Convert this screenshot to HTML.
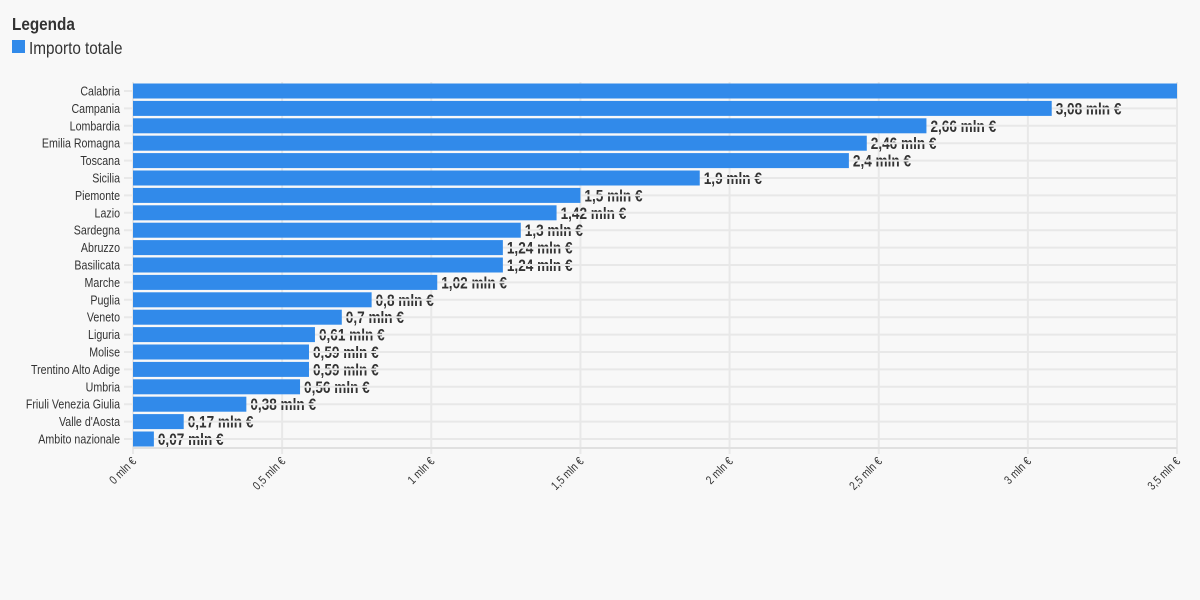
<!DOCTYPE html>
<html><head><meta charset="utf-8"><style>
body{margin:0;background:#f8f8f8;width:1200px;height:600px;overflow:hidden;font-family:"Liberation Sans",sans-serif;color:#333}
</style></head><body>
<svg id="c" width="1200" height="600" style="position:absolute;left:0;top:0">
<text transform="translate(12,30) scale(0.85,1)" font-size="18" font-weight="bold" fill="#333">Legenda</text>
<rect x="12" y="40" width="13" height="13" fill="#318aea"/>
<text transform="translate(29,54) scale(0.85,1)" font-size="18" fill="#333">Importo totale</text>
<defs><clipPath id="plot"><rect x="0" y="70" width="1177" height="400"/></clipPath></defs>
</svg>
<script>
const categories=["Calabria","Campania","Lombardia","Emilia Romagna","Toscana","Sicilia","Piemonte","Lazio","Sardegna","Abruzzo","Basilicata","Marche","Puglia","Veneto","Liguria","Molise","Trentino Alto Adige","Umbria","Friuli Venezia Giulia","Valle d'Aosta","Ambito nazionale"];
const values=[3.6,3.08,2.66,2.46,2.4,1.9,1.5,1.42,1.3,1.24,1.24,1.02,0.8,0.7,0.61,0.59,0.59,0.56,0.38,0.17,0.07];
const ticks=[0,0.5,1,1.5,2,2.5,3,3.5];
const tickLabels=["0 mln €","0,5 mln €","1 mln €","1,5 mln €","2 mln €","2,5 mln €","3 mln €","3,5 mln €"];
const svg=document.getElementById('c');const NS="http://www.w3.org/2000/svg";
const x0=133,x1=1177,xMax=3.5,yTop=91,step=17.4,bottom=448;
const xs=v=>x0+(x1-x0)*v/xMax;const ys=i=>yTop+i*step;
function mk(t,a,p){const e=document.createElementNS(NS,t);for(const k in a)e.setAttribute(k,a[k]);(p||svg).appendChild(e);return e;}
ticks.forEach((t,i)=>{
 const g=mk('line',{x1:xs(t),x2:xs(t),y1:82,y2:bottom+6,stroke:'#e8e8e8','stroke-width':2});
 
 
 const tx=mk('text',{x:0,y:0,'font-size':12,fill:'#333','text-anchor':'end',transform:`translate(${xs(t)+4},${bottom+14}) rotate(-45) scale(0.82,1)`});
 tx.textContent=tickLabels[i];
 
 
});
const cg=mk('g',{'clip-path':'url(#plot)'});
categories.forEach((c,i)=>{
 const y=ys(i);
 const gl=mk('line',{x1:124,x2:x1,y1:y,y2:y,stroke:'#e8e8e8','stroke-width':2});
 
 
 const lb=mk('text',{x:0,y:0,'font-size':13,fill:'#333','text-anchor':'end',transform:`translate(120,${y+4.5}) scale(0.82,1)`});
 lb.textContent=c;
 
 
 const w=Math.min(xs(values[i]),x1)-x0;
 const b=mk('rect',{x:x0,y:y-7.5,width:w,height:15,fill:'#318aea'});
 
 
 const vl=mk('text',{x:0,y:0,'font-size':17,'font-weight':'bold',fill:'#333',transform:`translate(${xs(values[i])+4},${y+6}) scale(0.8,1)`},cg);
 vl.textContent=String(values[i]).replace('.',',')+' mln €';
 
 
});
const ax=mk('line',{x1:x0,x2:x1,y1:bottom,y2:bottom,stroke:'#e0e0e0','stroke-width':2});


</script>
</body></html>
